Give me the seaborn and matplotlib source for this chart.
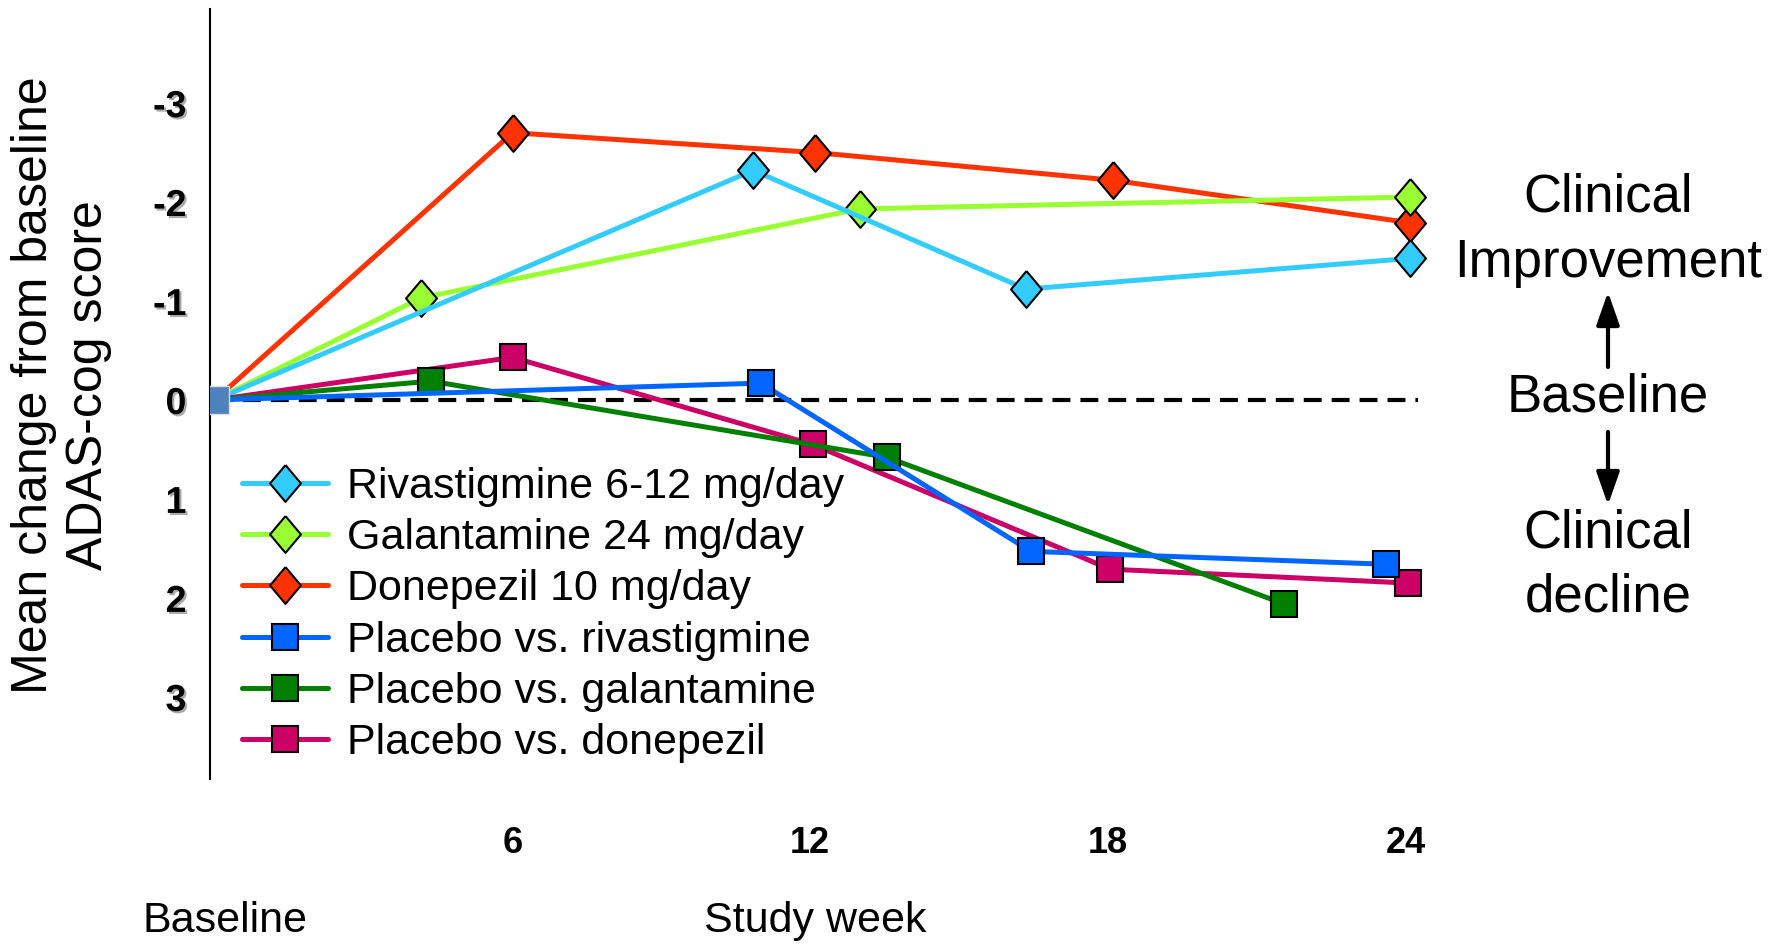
"""
ADAS-cog: variazione media dal basale per inibitori della colinesterasi vs placebo.
"""

import matplotlib

matplotlib.use("Agg")
import matplotlib.patheffects as pe
import matplotlib.pyplot as plt
import seaborn as sns
from matplotlib.patches import FancyArrowPatch

# Dati (settimana di studio, variazione ADAS-cog)
weeks_riva = [0, 10.85, 16.35, 24.1]
chg_riva = [0, -2.32, -1.12, -1.43]

weeks_gala = [0, 4.15, 13.0, 24.1]
chg_gala = [0, -1.03, -1.93, -2.05]

weeks_done = [0, 6.0, 12.1, 18.1, 24.1]
chg_done = [0, -2.70, -2.50, -2.22, -1.79]

weeks_pl_riva = [0, 11.0, 16.45, 23.6]
chg_pl_riva = [0, -0.17, 1.53, 1.66]

weeks_pl_gala = [0, 4.35, 13.55, 21.55]
chg_pl_gala = [0, -0.19, 0.58, 2.06]

weeks_pl_done = [0, 6.0, 12.05, 18.05, 24.05]
chg_pl_done = [0, -0.43, 0.45, 1.71, 1.85]

labels = [
    "Rivastigmine 6-12 mg/day",
    "Galantamine 24 mg/day",
    "Donepezil 10 mg/day",
    "Placebo vs. rivastigmine",
    "Placebo vs. galantamine",
    "Placebo vs. donepezil",
]
colors = ["#33CCFF", "#99FF33", "#FF3300", "#0066FF", "#008000", "#CC0066"]

x_ticks = [6, 12, 18, 24]
y_ticks = [-3, -2, -1, 0, 1, 2, 3]
baseline_end = 24.25

sns.set_theme(style="white")
plt.rcParams["font.family"] = ["Liberation Sans", "DejaVu Sans"]
plt.rcParams.update(
    {
        "text.color": "black",
        "axes.labelcolor": "black",
        "xtick.color": "black",
        "ytick.color": "black",
    }
)

DIAMOND = [(0, 1), (0.84, 0), (0, -1), (-0.84, 0), (0, 1)]

fig = plt.figure(figsize=(17.83, 9.44), dpi=100)
ax = fig.add_axes([210 / 1783, 1 - 779 / 944, 1245 / 1783, 770 / 944])

# (settimane, valori, indice etichetta, marker, dimensione) in ordine di disegno
series = [
    (weeks_done, chg_done, 2, DIAMOND, 26.5),
    (weeks_gala, chg_gala, 1, DIAMOND, 26.5),
    (weeks_riva, chg_riva, 0, DIAMOND, 26.5),
    (weeks_pl_done, chg_pl_done, 5, "s", 19),
    (weeks_pl_gala, chg_pl_gala, 4, "s", 19),
    (weeks_pl_riva, chg_pl_riva, 3, "s", 19),
]

# Linea tratteggiata del basale
ax.hlines(0, 0, baseline_end, colors="black", linewidth=3, linestyles=(0, (4.3, 2.4)), zorder=1)

for wk, chg, idx, mk, ms in series:
    sns.lineplot(
        x=wk,
        y=chg,
        ax=ax,
        sort=False,
        color=colors[idx],
        linewidth=3.6,
        marker=mk,
        markersize=ms,
        markeredgecolor="black",
        markeredgewidth=1.5,
        markevery=slice(1, None),  # niente marker al basale
        label=labels[idx],
    )

# Marker del basale
ax.plot(0, 0, marker="s", markersize=19.5, color="#4F81BD", markeredgecolor="#DDDDDD",
        markeredgewidth=1, linestyle="none", zorder=10)

ax.set_xlim(-0.1, 25)
ax.set_ylim(3.83, -3.95)
ax.set_xlabel("")
ax.set_ylabel("")

ax.set_xticks(x_ticks)
ax.set_xticklabels([str(v) for v in x_ticks], fontsize=26, fontweight="bold")
ax.set_yticks(y_ticks)
ax.set_yticklabels([str(v) for v in y_ticks], fontsize=27, fontweight="bold")
ax.tick_params(axis="x", length=0, pad=34)
ax.tick_params(axis="y", length=0, pad=17)
for lab in ax.get_yticklabels():
    lab.set_path_effects([pe.withSimplePatchShadow(offset=(1.5, -1.5), shadow_rgbFace="0.45", alpha=0.6)])

for side in ["top", "right", "bottom"]:
    ax.spines[side].set_visible(False)
ax.spines["left"].set_color("black")
ax.spines["left"].set_linewidth(1.5)

# Legenda nell'ordine originale
handles, hlabels = ax.get_legend_handles_labels()
lookup = dict(zip(hlabels, handles))
ax.legend(
    [lookup[l] for l in labels],
    labels,
    loc="upper left",
    bbox_to_anchor=(242 / 1783, 1 - 467 / 944),
    bbox_transform=fig.transFigure,
    frameon=False,
    fontsize=31,
    handlelength=2.0,
    handletextpad=0.45,
    labelspacing=0.26,
    borderpad=0,
    borderaxespad=0,
)

# Etichetta asse y
fig.text(62 / 1783, 1 - 385 / 944, "Mean change from baseline\nADAS-cog score",
         rotation=90, ha="center", va="center", fontsize=36, linespacing=1.25)

# Testi asse x
fig.text(225 / 1783, 1 - 921 / 944, "Baseline", ha="center", va="center", fontsize=31)
fig.text(815 / 1783, 1 - 921 / 944, "Study week", ha="center", va="center", fontsize=31)

# Annotazioni a destra (posizioni della linea di base del testo)
xr = 1608 / 1783
right_text = [("Clinical", 211), ("Improvement", 277), ("Baseline", 412), ("Clinical", 548), ("decline", 611)]
for txt, ypx in right_text:
    fig.text(xr, 1 - ypx / 944, txt, ha="center", va="baseline", fontsize=38)

for y0, y1 in [(367, 292), (432, 505)]:
    fig.add_artist(FancyArrowPatch(
        (xr, 1 - y0 / 944), (xr, 1 - y1 / 944), transform=fig.transFigure,
        arrowstyle="-|>,head_length=1.0,head_width=0.35", mutation_scale=20,
        color="black", lw=3, shrinkA=0, shrinkB=0))

fig.savefig("out.png", dpi=100)
